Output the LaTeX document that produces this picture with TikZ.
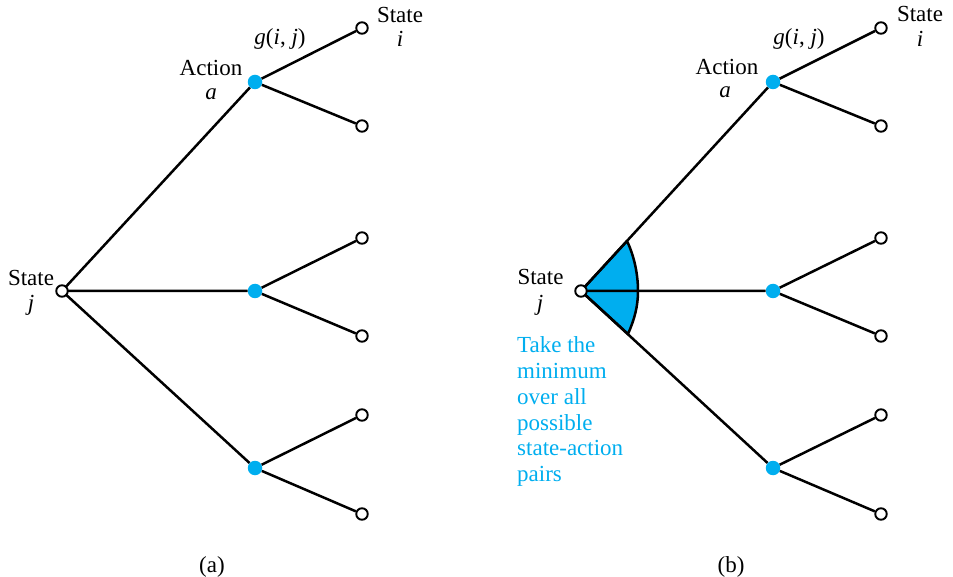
\documentclass[tikz,border=0pt]{standalone}
\usepackage{fontspec}
\setmainfont{Liberation Serif}
\definecolor{cyanblue}{RGB}{0,174,239}
\begin{document}
\begin{tikzpicture}[x=1pt,y=-1pt,
  every node/.style={font=\fontsize{23}{25.8}\selectfont},
  opennode/.style={circle,draw=black,fill=white,line width=1.9pt,minimum size=11.5pt,inner sep=0pt},
  actnode/.style={circle,fill=cyanblue,minimum size=14.5pt,inner sep=0pt},
  edge/.style={line width=2.5pt,black},
  lbl/.style={anchor=base,inner sep=0pt}]
\useasboundingbox (0,0) rectangle (953,577);
% ---------- (a) ----------
\coordinate (Ar) at (62,291);
\node[actnode] (Aa1) at (255,82) {};
\node[actnode] (Aa2) at (255,291) {};
\node[actnode] (Aa3) at (255,468) {};
\node[opennode] (Al1) at (362,28) {};
\node[opennode] (Al2) at (362,126) {};
\node[opennode] (Al3) at (362,238) {};
\node[opennode] (Al4) at (362,336) {};
\node[opennode] (Al5) at (362,415) {};
\node[opennode] (Al6) at (362,514) {};
\draw[edge] (Ar) -- (Aa1) (Ar) -- (Aa2) (Ar) -- (Aa3);
\draw[edge] (Aa1) -- (Al1) (Aa1) -- (Al2) (Aa2) -- (Al3) (Aa2) -- (Al4) (Aa3) -- (Al5) (Aa3) -- (Al6);
\node[opennode] (AR) at (Ar) {};
\node[lbl] (Ast) at (31,286) {State};
\node[lbl] (Aj) at (31,310) {\textit{j}};
\node[lbl] (Aact) at (211,76) {Action};
\node[lbl] (Aaa) at (211,100) {\textit{a}};
\node[lbl] (Ag) at (280,45) {\textit{g}(\textit{i}, \textit{j})};
\node[lbl] (Asi) at (400,23) {State};
\node[lbl] (Ai) at (400,47) {\textit{i}};
\node[lbl] (Acap) at (212,572) {(a)};
% ---------- (b) ----------
\coordinate (Br) at (581,291);
\coordinate (SA) at (627,241);
\coordinate (SB) at (638,291);
\coordinate (SC) at (628,334);
\node[actnode] (Ba1) at (773,82) {};
\node[actnode] (Ba2) at (773,291) {};
\node[actnode] (Ba3) at (773,468) {};
\node[opennode] (Bl1) at (881,28) {};
\node[opennode] (Bl2) at (881,126) {};
\node[opennode] (Bl3) at (881,238) {};
\node[opennode] (Bl4) at (881,336) {};
\node[opennode] (Bl5) at (881,415) {};
\node[opennode] (Bl6) at (881,514) {};
\draw[edge,fill=cyanblue,line join=round] (Br) -- (SA) .. controls (634.4,256.5) and (638,274.7) .. (SB)
   .. controls (638,306.3) and (634.5,319.2) .. (SC) -- cycle;
\draw[edge] (Br) -- (Ba1) (Br) -- (Ba2) (Br) -- (Ba3);
\draw[edge] (Ba1) -- (Bl1) (Ba1) -- (Bl2) (Ba2) -- (Bl3) (Ba2) -- (Bl4) (Ba3) -- (Bl5) (Ba3) -- (Bl6);
\node[opennode] (BR) at (Br) {};
\node[lbl] (Bst) at (540.5,285) {State};
\node[lbl] (Bj) at (540,310) {\textit{j}};
\node[lbl] (Bact) at (727,75) {Action};
\node[lbl] (Baa) at (725,98) {\textit{a}};
\node[lbl] (Bg) at (799,45) {\textit{g}(\textit{i}, \textit{j})};
\node[lbl] (Bsi) at (920,22) {State};
\node[lbl] (Bi) at (920,47) {\textit{i}};
\node[anchor=north west,inner sep=0pt,align=left,text=cyanblue] (Btxt) at (517,336.5)
  {Take the\\minimum\\over all\\possible\\state-action\\pairs};
\node[lbl] (Bcap) at (731,572) {(b)};
\end{tikzpicture}
\end{document}
